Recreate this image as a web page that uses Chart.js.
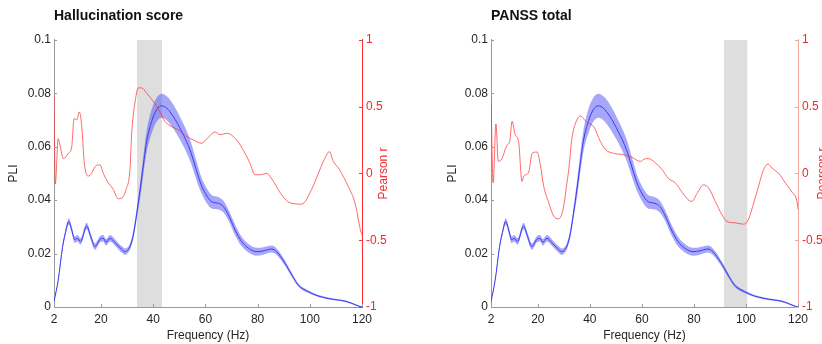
<!DOCTYPE html>
<html>
<head>
<meta charset="utf-8">
<script src="https://cdn.jsdelivr.net/npm/chart.js@4.4.1/dist/chart.umd.min.js"></script>
<style>
  body { margin: 0; background: #fff; overflow: hidden; }
  canvas { position: absolute; top: 0; }
  #left { left: 0; }
  #right { left: 411px; }
</style>
</head>
<body>
<canvas id="left" width="411" height="344"></canvas>
<canvas id="right" width="411" height="344"></canvas>
<script>
// mean PLI spectrum with its error band (same for both panels)
const pliFreq = [2, 3.6, 5.3, 6.2, 7.7, 8.8, 10, 10.9, 12.2, 14.5, 16.1, 17.7, 19.6, 20.9, 21.9, 23.5, 25.4, 27.9, 29.2, 31.1,
  32.4, 33.7, 35, 36, 37.5, 39.4, 41.3, 43.3, 45.2, 47.7, 50.9, 54.1, 56.7, 58.3, 60, 62.4, 65, 66.9, 68.8, 71.4,
  73.9, 76.5, 79.7, 82.2, 85.4, 87.3, 90.5, 93.1, 95.6, 99.5, 103.3, 107.1, 111, 113.5, 116, 119.2, 120];
const pliMean = [0.002, 0.010, 0.0226, 0.027, 0.032, 0.0288, 0.0251, 0.0257, 0.0245, 0.0303, 0.0263, 0.0226, 0.0253, 0.0257, 0.0242, 0.0257, 0.0241, 0.0216, 0.0207, 0.0226,
  0.027, 0.035, 0.0438, 0.0513, 0.062, 0.0694, 0.0738, 0.0753, 0.0744, 0.0713, 0.0657, 0.0588, 0.0507, 0.046, 0.0425, 0.0394, 0.0388, 0.0376, 0.0345, 0.0288,
  0.0245, 0.022, 0.0207, 0.021, 0.0217, 0.0207, 0.0164, 0.012, 0.0082, 0.0057, 0.0041, 0.0032, 0.0026, 0.0022, 0.0014, 0.0002, 0];
const pliErr = [0.0004, 0.0006, 0.0009, 0.001, 0.0012, 0.0012, 0.0012, 0.0012, 0.0012, 0.0012, 0.0012, 0.0012, 0.0012, 0.0012, 0.0012, 0.0012, 0.0012, 0.0012, 0.0012, 0.0012,
  0.0015, 0.002, 0.003, 0.0035, 0.004, 0.0045, 0.0045, 0.0045, 0.0045, 0.0045, 0.0042, 0.004, 0.0035, 0.003, 0.0028, 0.0025, 0.0023, 0.0022, 0.002, 0.002,
  0.0018, 0.0016, 0.0015, 0.0014, 0.0013, 0.0012, 0.001, 0.0008, 0.0006, 0.0005, 0.0004, 0.0004, 0.0003, 0.0003, 0.0003, 0.0002, 0.0002];

// correlation with hallucination score
const halluFreq = [2, 2.5, 3.6, 4.2, 5.6, 7.5, 8.8, 9.7, 10.7, 11.7, 12.6, 13.6, 15.1, 16.4, 17.7, 19.6, 20.9, 22.8, 24.7, 26.6,
  27.9, 29.6, 31.1, 31.8, 33.1, 34.3, 35.6, 37.5, 40, 42.6, 44.5, 47.1, 49.6, 52.8, 55.4, 58.6, 61.1, 63.7, 65.6, 68.2,
  72, 75.2, 77.1, 79, 81, 83.5, 85.4, 89.2, 92.4, 96.9, 100.7, 103.9, 105.8, 107.5, 109, 111, 112.2, 114.8, 117.3, 119.6, 120];
const halluR = [0.60, -0.08, 0.26, 0.22, 0.11, 0.15, 0.20, 0.41, 0.40, 0.46, 0.36, 0.08, -0.02, 0.0, 0.05, 0.064, 0.0, -0.07, -0.12, -0.19,
  -0.186, -0.12, 0.03, 0.31, 0.54, 0.64, 0.64, 0.60, 0.54, 0.46, 0.39, 0.35, 0.326, 0.276, 0.25, 0.226, 0.27, 0.31, 0.29, 0.30,
  0.25, 0.15, 0.076, -0.01, -0.01, 0.0, -0.04, -0.16, -0.22, -0.23, -0.12, 0.03, 0.114, 0.163, 0.09, 0.04, 0.0, -0.1, -0.22, -0.44, -0.46];

// correlation with PANSS total
const panssFreq = [2, 2.8, 3.9, 4.8, 6.2, 8.1, 9.2, 10.1, 11.3, 12.6, 13.9, 14.6, 16.5, 17.8, 19.7, 21, 22.3, 24.2, 26.1, 28,
  29.7, 31.2, 31.9, 33.1, 35, 36.3, 38.9, 41.5, 44, 45.9, 49.2, 53, 56.2, 59.4, 61.3, 62.6, 65.1, 67.7, 70.3, 72.8,
  75.4, 78, 79.2, 81.2, 83.7, 85.7, 88.2, 90.8, 92.7, 95.9, 99.1, 100.8, 103, 105.5, 106.8, 108.5, 110, 111.3, 112.6, 115.1, 117.7, 119.6, 120];
const panssR = [0.575, -0.07, 0.37, 0.09, 0.11, 0.21, 0.24, 0.39, 0.29, 0.24, -0.06, -0.02, 0.01, 0.15, 0.16, 0.06, -0.1, -0.22, -0.32, -0.34,
  -0.27, -0.07, 0.03, 0.26, 0.40, 0.43, 0.38, 0.35, 0.24, 0.18, 0.15, 0.14, 0.12, 0.09, 0.11, 0.11, 0.08, 0.03, -0.04, -0.07,
  -0.14, -0.2, -0.21, -0.15, -0.086, -0.11, -0.21, -0.31, -0.36, -0.37, -0.38, -0.35, -0.22, -0.05, 0.03, 0.07, 0.04, 0.02, 0.0, -0.07, -0.14, -0.21, -0.27];

// significant frequency windows (Hz)
const halluBand = [33.8, 43.4];
const panssBand = [91.5, 100.6];

const freqTicks = [2, 20, 40, 60, 80, 100, 120];

const FONT = '"Liberation Sans", Arial, sans-serif';
Chart.defaults.font.family = FONT;
Chart.defaults.font.size = 12;
Chart.defaults.color = '#262626';

// small inward tick marks, matlab style
const innerTicks = {
  id: 'innerTicks',
  afterDraw(chart) {
    const ctx = chart.ctx, a = chart.chartArea;
    ctx.save();
    ctx.lineWidth = 1;
    ['x', 'y', 'y2'].forEach(id => {
      const s = chart.scales[id];
      ctx.strokeStyle = s.options.border.color;
      s.ticks.forEach(t => {
        const p = Math.round(s.getPixelForValue(t.value)) + 0.5;
        ctx.beginPath();
        if (id === 'x') { ctx.moveTo(p, a.bottom); ctx.lineTo(p, a.bottom - 3); }
        else if (id === 'y') { ctx.moveTo(a.left, p); ctx.lineTo(a.left + 3, p); }
        else { ctx.moveTo(a.right, p); ctx.lineTo(a.right - 3, p); }
        ctx.stroke();
      });
    });
    ctx.restore();
  }
};

// right axis title, reading bottom-to-top
const rightTitle = {
  id: 'rightTitle',
  afterDraw(chart, args, opts) {
    const { ctx, chartArea: a } = chart;
    ctx.save();
    ctx.translate(a.right + opts.offset, (a.top + a.bottom) / 2);
    ctx.rotate(-Math.PI / 2);
    ctx.fillStyle = opts.color;
    ctx.font = '12px ' + FONT;
    ctx.textAlign = 'center';
    ctx.textBaseline = 'middle';
    ctx.fillText(opts.text, 0, 0);
    ctx.restore();
  }
};

const pts = (xs, ys) => xs.map((x, i) => ({ x: x, y: ys[i] }));

function makePanel(canvasId, p) {
  const ctx = document.getElementById(canvasId).getContext('2d');
  new Chart(ctx, {
    type: 'line',
    data: {
      datasets: [
        {
          label: 'Pearson r',
          yAxisID: 'y2',
          data: pts(p.freq, p.r),
          borderColor: 'rgba(255,50,50,0.72)',
          borderWidth: 1,
          pointRadius: 0,
          cubicInterpolationMode: 'monotone',
          fill: false
        },
        {
          label: 'PLI',
          yAxisID: 'y',
          data: pts(pliFreq, pliMean),
          borderColor: 'rgb(60,60,240)',
          borderWidth: 1,
          pointRadius: 0,
          cubicInterpolationMode: 'monotone',
          fill: false
        },
        {
          label: 'upper',
          yAxisID: 'y',
          data: pts(pliFreq, pliMean.map((v, i) => v + pliErr[i])),
          borderWidth: 0,
          borderColor: 'rgba(0,0,0,0)',
          pointRadius: 0,
          cubicInterpolationMode: 'monotone',
          fill: false
        },
        {
          label: 'lower',
          yAxisID: 'y',
          data: pts(pliFreq, pliMean.map((v, i) => Math.max(0, v - pliErr[i]))),
          borderWidth: 0,
          borderColor: 'rgba(0,0,0,0)',
          backgroundColor: 'rgba(80,80,245,0.5)',
          pointRadius: 0,
          cubicInterpolationMode: 'monotone',
          fill: '-1'
        },
        {
          label: 'window',
          yAxisID: 'y',
          data: [{ x: p.band[0], y: 0.1 }, { x: p.band[1], y: 0.1 }],
          borderWidth: 0,
          borderColor: 'rgba(0,0,0,0)',
          backgroundColor: '#dedede',
          pointRadius: 0,
          fill: 'origin'
        }
      ]
    },
    options: {
      responsive: false,
      animation: false,
      layout: { padding: { left: p.padLeft, right: 0, top: 0, bottom: 0 } },
      plugins: {
        legend: { display: false },
        tooltip: { enabled: false },
        title: {
          display: true,
          text: p.title,
          align: 'start',
          fullSize: false,
          color: '#111',
          font: { size: 14, weight: 'bold' },
          padding: { top: 8, bottom: 15 }
        },
        rightTitle: { text: 'Pearson r', color: '#f03030', offset: p.rTitleOffset }
      },
      scales: {
        x: {
          type: 'linear',
          min: 2,
          max: 120,
          afterBuildTicks: s => { s.ticks = freqTicks.map(v => ({ value: v })); },
          afterFit: s => { s.height = 37; },
          grid: { drawOnChartArea: false, drawTicks: false },
          border: { color: '#9a9a9a' },
          ticks: { padding: 5, maxRotation: 0, autoSkip: false },
          title: { display: true, text: 'Frequency (Hz)', padding: { top: 0, bottom: 1 } }
        },
        y: {
          position: 'left',
          min: 0,
          max: 0.1,
          afterFit: s => { s.width = p.yWidth; },
          grid: { drawOnChartArea: false, drawTicks: false },
          border: { color: '#9a9a9a' },
          ticks: { stepSize: 0.02, padding: 3, callback: v => String(+v.toFixed(2)) },
          title: { display: true, text: 'PLI' }
        },
        y2: {
          position: 'right',
          min: -1,
          max: 1,
          afterFit: s => { s.width = p.y2Width; },
          grid: { drawOnChartArea: false, drawTicks: false },
          border: { color: p.y2Border },
          ticks: { stepSize: 0.5, padding: 4, color: '#f02828', callback: v => String(+v.toFixed(1)) }
        }
      }
    },
    plugins: [innerTicks, rightTitle]
  });
}

makePanel('left', {
  title: 'Hallucination score',
  freq: halluFreq, r: halluR, band: halluBand,
  padLeft: 2, yWidth: 52, y2Width: 49, y2Border: '#ff3030', rTitleOffset: 22
});

makePanel('right', {
  title: 'PANSS total',
  freq: panssFreq, r: panssR, band: panssBand,
  padLeft: 30, yWidth: 50, y2Width: 24, y2Border: '#f5a8a0', rTitleOffset: 25
});
</script>
</body>
</html>
